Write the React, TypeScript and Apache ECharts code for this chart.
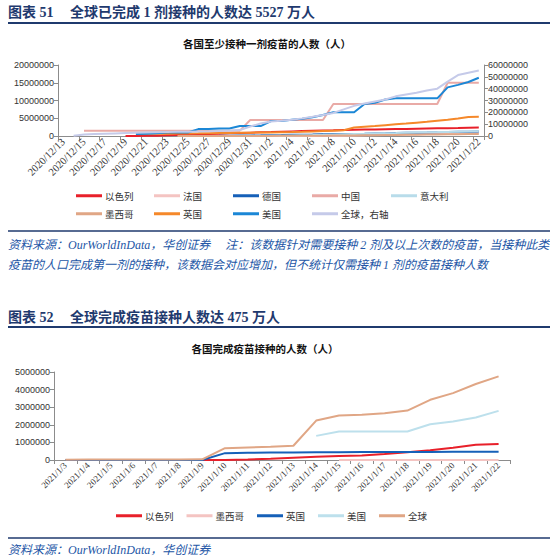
import * as echarts from 'echarts'
import { useEffect, useRef } from 'react'

type EChartsOption = echarts.EChartsOption

// 图表 51：至少接种一剂（左轴：各国，右轴：全球）
const dates1 = [
  '2020/12/13', '2020/12/14', '2020/12/15', '2020/12/16', '2020/12/17', '2020/12/18', '2020/12/19',
  '2020/12/20', '2020/12/21', '2020/12/22', '2020/12/23', '2020/12/24', '2020/12/25', '2020/12/26',
  '2020/12/27', '2020/12/28', '2020/12/29', '2020/12/30', '2020/12/31', '2021/1/1', '2021/1/2',
  '2021/1/3', '2021/1/4', '2021/1/5', '2021/1/6', '2021/1/7', '2021/1/8', '2021/1/9',
  '2021/1/10', '2021/1/11', '2021/1/12', '2021/1/13', '2021/1/14', '2021/1/15', '2021/1/16',
  '2021/1/17', '2021/1/18', '2021/1/19', '2021/1/20', '2021/1/21', '2021/1/22',
]
const israel1 = [
  null, null, null, null, null, null, 0, 7000, 50000, 100000, 200000, 280000, 370000, 450000,
  550000, 650000, 750000, 850000, 950000, 1050000, 1100000, 1200000, 1300000, 1400000, 1500000,
  1550000, 1600000, 1700000, 1750000, 1800000, 1850000, 1900000, 1950000, 2000000, 2050000,
  2100000, 2150000, 2200000, 2250000, 2350000, 2400000,
]
const france1 = [
  null, null, null, null, null, null, null, null, null, null, null, null, null, null,
  100, 200, 300, 400, 500, 600, 700, 1000, 3000, 7000, 20000, 45000, 80000, 100000,
  140000, 190000, 250000, 300000, 360000, 420000, 480000, 530000, 590000, 650000, 720000,
  830000, 950000,
]
const germany1 = [
  null, null, null, null, null, null, null, null, null, null, null, null, null, null,
  24000, 42000, 80000, 130000, 165000, 190000, 240000, 270000, 320000, 370000, 420000,
  480000, 530000, 560000, 580000, 620000, 690000, 750000, 820000, 890000, 950000, 990000,
  1040000, 1100000, 1170000, 1230000, 1300000,
]
const china1 = [
  null, null, 1500000, 1500000, 1500000, 1500000, 1500000, 1500000, 1500000, 1500000, 1500000,
  1500000, 1500000, 1500000, 1500000, 1500000, 1500000, 1500000, 4500000, 4500000, 4500000,
  4500000, 4500000, 4500000, 4500000, 4500000, 9000000, 9000000, 9000000, 9000000, 9000000,
  9000000, 9000000, 9000000, 9000000, 9000000, 9000000, 15000000, 15000000, 15000000, 15000000,
]
const italy1 = [
  null, null, null, null, null, null, null, null, null, null, null, null, null, null,
  7000, 9000, 12000, 20000, 40000, 45000, 60000, 90000, 150000, 200000, 250000, 330000,
  420000, 500000, 560000, 620000, 700000, 780000, 860000, 950000, 1000000, 1050000, 1100000,
  1160000, 1210000, 1260000, 1320000,
]
const mexico1 = [
  null, null, null, null, null, null, null, null, null, null, null, 3000, 3000, 5000,
  7000, 10000, 15000, 20000, 25000, 30000, 35000, 40000, 45000, 55000, 70000, 90000,
  110000, 130000, 160000, 190000, 220000, 260000, 300000, 340000, 380000, 410000, 440000,
  470000, 500000, 530000, 560000,
]
const uk1 = [
  null, null, null, null, null, null, null, 580000, 600000, 620000, 650000, 680000, 710000,
  740000, 780000, 820000, 860000, 900000, 940000, 980000, 1020000, 1070000, 1120000, 1200000,
  1300000, 1400000, 1500000, 1600000, 2400000, 2600000, 2800000, 3050000, 3300000, 3500000,
  3750000, 4000000, 4300000, 4600000, 4950000, 5350000, 5400000,
]
const us1 = [
  null, null, null, null, null, null, null, 560000, 610000, 800000, 1000000, 1000000, 1000000,
  1940000, 1940000, 2130000, 2130000, 2790000, 2790000, 2790000, 4230000, 4230000, 4560000,
  4840000, 5310000, 5920000, 6690000, 6690000, 6690000, 8990000, 9330000, 10280000, 10600000,
  10600000, 10600000, 10600000, 10600000, 13700000, 14400000, 15200000, 16400000,
]
const global1 = [
  null, 300000, 1200000, 1600000, 1900000, 2200000, 2500000, 2800000, 3000000, 3200000,
  3400000, 3500000, 3600000, 3800000, 4000000, 4300000, 4600000, 5000000, 8000000, 10500000,
  12200000, 12800000, 13800000, 14900000, 16200000, 17800000, 19500000, 22500000, 25500000,
  27500000, 29200000, 30800000, 33500000, 35000000, 36500000, 38500000, 40000000, 46000000,
  51500000, 53500000, 55270000,
]

// 图表 52：完成接种
const dates2 = [
  '2021/1/3', '2021/1/4', '2021/1/5', '2021/1/6', '2021/1/7', '2021/1/8', '2021/1/9',
  '2021/1/10', '2021/1/11', '2021/1/12', '2021/1/13', '2021/1/14', '2021/1/15', '2021/1/16',
  '2021/1/17', '2021/1/18', '2021/1/19', '2021/1/20', '2021/1/21', '2021/1/22',
]
const israel2 = [
  null, null, null, null, null, null, 0, 5000, 30000, 70000, 130000, 190000, 230000, 250000,
  340000, 440000, 550000, 700000, 860000, 910000,
]
const mexico2 = [
  null, null, null, null, null, null, null, null, null, null, null, null, 1500, 2000,
  2500, 3000, 4000, 5000, 6000, 7000,
]
const uk2 = [
  0, 0, 0, 0, 0, 0, 0, 390000, 410000, 420000, 430000, 440000, 445000, 450000,
  450000, 455000, 460000, 462000, 466000, 470000,
]
const us2 = [
  null, null, null, null, null, null, null, null, null, null, null, 1370000, 1620000, 1620000,
  1620000, 1620000, 2030000, 2190000, 2410000, 2790000,
]
const global2 = [
  20000, 22000, 25000, 27000, 30000, 33000, 36000, 670000, 710000, 750000, 810000, 2240000,
  2530000, 2570000, 2660000, 2810000, 3420000, 3800000, 4320000, 4750000,
]

const CJK = '"Noto Sans CJK SC", sans-serif'
const SERIF = '"Liberation Serif", "Noto Sans CJK SC", serif'
const NAVY = '#1f3a6e'
const NOTE = '#2356a6'

const numLabel = { fontFamily: '"Liberation Sans", Arial, sans-serif', fontSize: 9, color: '#333' }
const dateLabel = { fontFamily: '"Liberation Serif", serif', fontSize: 9, color: '#333', rotate: 45, margin: 4 }
const axisLine = { show: true, lineStyle: { color: '#8c8c8c', width: 1 } }
const axisTick = { show: true, length: 4, lineStyle: { color: '#8c8c8c' } }

const line = (name: string, data: (number | null)[], color: string, yAxisIndex = 0) => ({
  type: 'line' as const,
  name,
  data,
  yAxisIndex,
  symbol: 'none',
  showSymbol: false,
  lineStyle: { color, width: 2 },
  itemStyle: { color },
})

const legendAt = (name: string, left: number, top: number) => ({
  data: [name],
  left,
  top,
  padding: 0,
  icon: 'rect',
  itemWidth: 26,
  itemHeight: 3,
  selectedMode: false,
  textStyle: { fontFamily: CJK, fontSize: 9.5, color: '#333', padding: [0, 0, 0, -2] },
})

const text = (x: number, y: number, t: string, style: Record<string, unknown>) => ({
  type: 'text' as const,
  x,
  y,
  silent: true,
  style: { text: t, textVerticalAlign: 'middle', ...style },
})

const rule = (y: number, w: number) => ({
  type: 'line' as const,
  silent: true,
  shape: { x1: 8, y1: y, x2: 550, y2: y },
  style: { stroke: NAVY, lineWidth: w },
})

const header = (y: number, no: string, t: string) => [
  text(8, y, no, { font: `bold 14px ${SERIF}`, fill: NAVY }),
  text(70, y, t, { font: `bold 14px ${SERIF}`, fill: NAVY }),
]

const buildTop = (): EChartsOption => {
  const cols = [76, 154, 233, 312, 391]
  return {
    animation: false,
    backgroundColor: '#fff',
    grid: { left: 58, top: 65, width: 426, height: 71 },
    xAxis: {
      type: 'category',
      data: dates1,
      boundaryGap: true,
      axisLine,
      axisTick: { ...axisTick, interval: 1 },
      axisLabel: { ...dateLabel, fontSize: 10.5, interval: 1 },
    },
    yAxis: [
      {
        type: 'value', min: 0, max: 20000000, interval: 5000000,
        axisLine, axisTick, splitLine: { show: false },
        axisLabel: { ...numLabel, margin: 4, formatter: (v: number) => String(v) },
      },
      {
        type: 'value', min: 0, max: 60000000, interval: 10000000, position: 'right',
        axisLine, axisTick, splitLine: { show: false },
        axisLabel: { ...numLabel, margin: 4, formatter: (v: number) => String(v) },
      },
    ],
    legend: [
      legendAt('以色列', cols[0], 191),
      legendAt('法国', cols[1], 191),
      legendAt('德国', cols[2], 191),
      legendAt('中国', cols[3], 191),
      legendAt('意大利', cols[4], 191),
      legendAt('墨西哥', cols[0], 209),
      legendAt('英国', cols[1], 209),
      legendAt('美国', cols[2], 209),
      legendAt('全球，右轴', cols[3], 209),
    ],
    series: [
      line('以色列', israel1, '#e8202a'),
      line('法国', france1, '#f4c4c2'),
      line('德国', germany1, '#1660b8'),
      line('中国', china1, '#e9aaa6'),
      line('意大利', italy1, '#b8dcea'),
      line('墨西哥', mexico1, '#e0a685'),
      line('英国', uk1, '#f5882a'),
      line('美国', us1, '#1b87d6'),
      line('全球，右轴', global1, '#c5cae9', 1),
    ],
    graphic: [
      ...header(12, '图表 51', '全球已完成 1 剂接种的人数达 5527 万人'),
      rule(23, 2),
      text(267, 43, '各国至少接种一剂疫苗的人数（人）', {
        font: `bold 10.5px ${CJK}`, fill: '#111', textAlign: 'center',
      }),
      rule(231, 1.5),
      text(8, 245, '资料来源：OurWorldInData，华创证券　 注：该数据针对需要接种 2 剂及以上次数的疫苗，当接种此类', {
        font: `italic 12px ${SERIF}`, fill: NOTE,
      }),
      text(8, 265, '疫苗的人口完成第一剂的接种，该数据会对应增加，但不统计仅需接种 1 剂的疫苗接种人数', {
        font: `italic 12px ${SERIF}`, fill: NOTE,
      }),
    ],
  }
}

const buildBottom = (): EChartsOption => ({
  animation: false,
  backgroundColor: '#fff',
  grid: { left: 54, top: 72, width: 456, height: 88 },
  xAxis: {
    type: 'category',
    data: dates2,
    boundaryGap: true,
    axisLine,
    axisTick,
    axisLabel: { ...dateLabel, interval: 0 },
  },
  yAxis: {
    type: 'value', min: 0, max: 5000000, interval: 1000000,
    axisLine, axisTick, splitLine: { show: false },
    axisLabel: { ...numLabel, margin: 4, formatter: (v: number) => String(v) },
  },
  legend: {
    data: ['以色列', '墨西哥', '英国', '美国', '全球'],
    left: 116,
    top: 211,
    padding: 0,
    icon: 'rect',
    itemWidth: 26,
    itemHeight: 3,
    itemGap: 13,
    selectedMode: false,
    textStyle: { fontFamily: CJK, fontSize: 9.5, color: '#333', padding: [0, 0, 0, -2] },
  },
  series: [
    line('以色列', israel2, '#e8202a'),
    line('墨西哥', mexico2, '#f4c4c2'),
    line('英国', uk2, '#1660b8'),
    line('美国', us2, '#bde0ec'),
    line('全球', global2, '#e0a685'),
  ],
  graphic: [
    ...header(17, '图表 52', '全球完成疫苗接种人数达 475 万人'),
    rule(27, 2),
    text(265, 48, '各国完成疫苗接种的人数（人）', {
      font: `bold 10.5px ${CJK}`, fill: '#111', textAlign: 'center',
    }),
    rule(238, 1.5),
    text(8, 250, '资料来源：OurWorldInData，华创证券', { font: `italic 12px ${SERIF}`, fill: NOTE }),
  ],
})

const App = () => {
  const topRef = useRef<HTMLDivElement>(null)
  const bottomRef = useRef<HTMLDivElement>(null)

  useEffect(() => {
    if (!topRef.current || !bottomRef.current) return
    const top = echarts.init(topRef.current, undefined, { renderer: 'svg' })
    const bottom = echarts.init(bottomRef.current, undefined, { renderer: 'svg' })
    top.setOption(buildTop())
    bottom.setOption(buildBottom())
    return () => {
      top.dispose()
      bottom.dispose()
    }
  }, [])

  return (
    <div style={{ position: 'absolute', left: 0, top: 0, width: 550, height: 560, background: '#fff' }}>
      <div ref={topRef} style={{ width: 550, height: 300 }} />
      <div ref={bottomRef} style={{ width: 550, height: 260 }} />
    </div>
  )
}

export default App
